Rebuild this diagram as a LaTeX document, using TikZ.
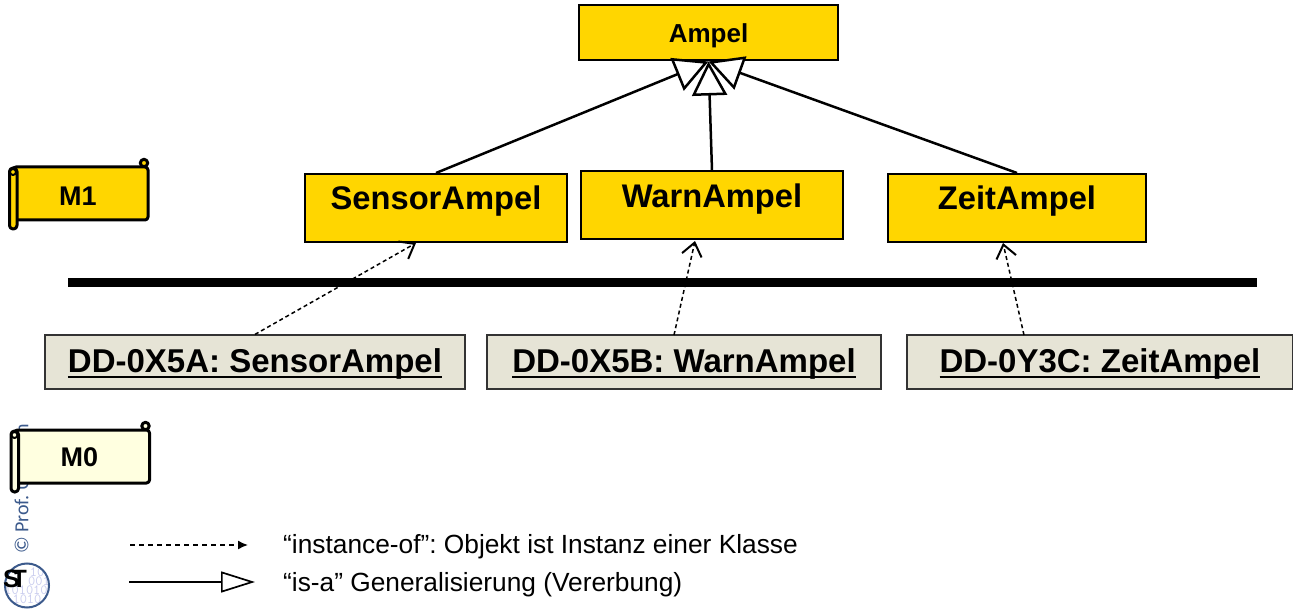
\documentclass[tikz,border=0pt]{standalone}
\usepackage{fontspec}
\setmainfont{Liberation Sans}
\newfontfamily\notefont{Carlito}
\usetikzlibrary{arrows.meta}

\definecolor{gold}{HTML}{FFD600}
\definecolor{pale}{HTML}{FFFFE0}
\definecolor{stone}{HTML}{E6E4D6}
\definecolor{noteblue}{HTML}{3C5A8C}
\definecolor{logoblue}{HTML}{C9CCEE}

\newcommand{\objline}[1]{\setbox0=\hbox{#1}\rlap{\rule[-5pt]{\wd0}{1.8pt}}\box0}

\begin{document}
\begin{tikzpicture}[
  x=1pt, y=-1pt,
  cls/.style={draw, line width=2pt, fill=gold, font=\bfseries\fontsize{32.7}{38}\selectfont,
    text height=20pt, text depth=16pt, minimum height=68pt, inner sep=0pt},
  obj/.style={draw=black!80, line width=1.2pt, fill=stone, font=\bfseries\fontsize{33}{38}\selectfont,
    text height=22pt, text depth=0pt, minimum height=54pt, inner sep=0pt},
  isa/.style={line width=2.5pt, -{Triangle[open, length=34pt, width=35pt, fill=white]}},
  inst/.style={line width=1.5pt, dash pattern=on 4pt off 3pt, -{Straight Barb[length=13pt, width=20pt, line width=2pt]}},
  legend/.style={font=\fontsize{26.3}{32}\selectfont, anchor=west, inner sep=0pt},
]
\useasboundingbox (0,0) rectangle (1293,609);
\frenchspacing

% copyright and logo
\node (note) [rotate=90, anchor=west, text=noteblue, inner sep=0pt, font=\notefont\fontsize{20}{24}\selectfont]
  at (21.5,554) {© Prof. U. Aß\kern-24pt mann};
\begin{scope}
\clip (27,585.5) circle [radius=21];
\foreach \xx/\yy/\d in {37/572/10, 39/581/001, 26/590/101010, 27/599/1010} {
  \node (digits\d) [text=logoblue, inner sep=0pt, font=\ttfamily\fontsize{14}{14}\selectfont] at (\xx,\yy) {\d};
}
\end{scope}
\draw [noteblue, line width=2pt] (27,585.5) circle [radius=22];
\node (logo) [font=\bfseries\fontsize{25}{26}\selectfont, inner sep=0pt] at (15,578.5) {S\kern-8ptT};

% levels
\foreach \x/\y/\c/\t/\ty in {0/0/gold/M1/196, 1.5/263/pale/M0/194} {
  \begin{scope}[shift={(\x,\y)}, line join=round]
    \draw [fill=\c, line width=3pt] (144,163) circle [radius=3.7];
    \draw [fill=\c, line width=3pt, rounded corners=3pt] (13,167) -- (148,167) -- (148,220) -- (13,220) -- cycle;
    \draw [fill=\c, line width=3pt, rounded corners=3.5pt] (9.5,168) rectangle (17,229);
    \draw [fill=\c, line width=2pt] (13,172) circle [radius=3];
    \node (level\t) [font=\bfseries\fontsize{27}{30}\selectfont] at (78,\ty) {\t};
  \end{scope}
}

% classes
\node (ampel) [cls, minimum width=259pt, minimum height=55pt, text height=20pt, text depth=0pt,
  font=\bfseries\fontsize{26}{30}\selectfont] at (708.5,33) {Ampel};
\node (sensor) [cls, minimum width=262pt] at (436,208) {SensorAmpel};
\node (warn) [cls, minimum width=262pt] at (712,205.5) {WarnAmpel};
\node (zeit) [cls, minimum width=258pt] at (1017,208) {ZeitAmpel};

\draw [isa] (sensor.north) -- (ampel.south);
\draw [isa] (zeit.north) -- (ampel.south);
\draw [isa] (warn.north) -- (ampel.south);

% separator
\coordinate (barL) at (68,283);
\coordinate (barR) at (1257,283);
\draw [line width=9pt] (barL) -- (barR);

% objects
\node (objS) [obj, minimum width=420pt] at (255,362) {\objline{DD-0X5A: SensorAmpel}};
\node (objW) [obj, minimum width=394pt] at (684,362) {\objline{DD-0X5B: WarnAmpel}};
\node (objZ) [obj, minimum width=386pt] at (1100,362) {\objline{DD-0Y3C: ZeitAmpel}};

\coordinate (fromW) at (674,335);
\coordinate (fromZ) at (1024,335);
\coordinate (toS) at (416,243);
\coordinate (toW) at (695,241);
\coordinate (toZ) at (1003,243);
\draw [inst] (objS.north) -- (toS);
\draw [inst] (fromW) -- (toW);
\draw [inst] (fromZ) -- (toZ);

% legend
\coordinate (dashA) at (130,545);
\coordinate (dashB) at (248,545);
\coordinate (lineA) at (129,582);
\coordinate (lineB) at (255,582);
\draw [line width=1.5pt, dash pattern=on 5pt off 4pt, -{Latex[length=10pt, width=9pt]}] (dashA) -- (dashB);
\draw [line width=1.7pt, -{Triangle[open, length=34pt, width=21pt, fill=white]}] (lineA) -- (lineB);
\node (legInst) [legend] at (283,546.5) {“instance-of”: Objekt ist Instanz einer Klasse};
\node (legIsa) [legend] at (283,584.5) {“is-a” Generalisierung (Vererbung)};

\end{tikzpicture}
\end{document}
